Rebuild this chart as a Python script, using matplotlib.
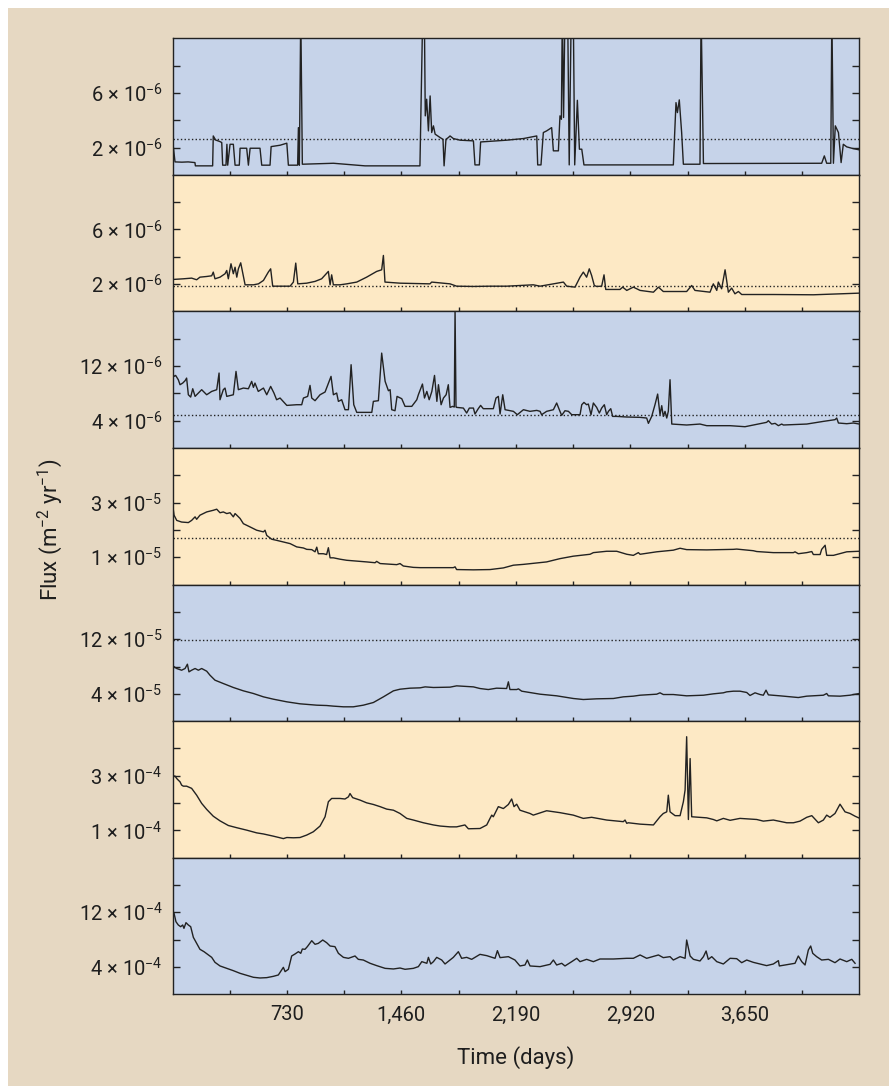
import numpy as np
import matplotlib
matplotlib.use("Agg")
import matplotlib.pyplot as plt
from matplotlib.patches import Rectangle

plt.rcParams["font.family"] = ["Roboto", "DejaVu Sans"]
plt.rcParams["font.weight"] = "normal"
plt.rcParams["mathtext.default"] = "regular"

BLUE = "#c6d3e9"
YELLOW = "#fde9c5"
BEIGE = "#e6d8c2"
INK = "#222222"
TEXT = "#1e1e1e"

X_MAX = 4380
X_TICKS = list(range(365, X_MAX, 365))
X_LABELS = {730: "730", 1460: "1,460", 2190: "2,190", 2920: "2,920", 3650: "3,650"}

# panel 1, flux in 1e-6 (values of 12 run off the top)
p1_days = [0, 16, 60, 100, 143, 146, 256, 260, 275, 300,
           314, 320, 341, 347, 352, 367, 388, 399, 426, 431,
           473, 484, 495, 558, 569, 622, 629, 686, 729, 739,
           798, 803, 809, 818, 828, 1026, 1132, 1228, 1578, 1596,
           1606, 1612, 1621, 1632, 1643, 1653, 1664, 1675, 1707, 1725,
           1732, 1744, 1759, 1770, 1791, 1834, 1919, 1929, 1957, 1965,
           2131, 2238, 2323, 2329, 2350, 2365, 2386, 2418, 2429, 2461,
           2471, 2480, 2486, 2494, 2503, 2520, 2530, 2543, 2556, 2565,
           2582, 2595, 2610, 2624, 3194, 3211, 3220, 3232, 3247, 3258,
           3364, 3371, 3386, 4140, 4157, 4172, 4198, 4205, 4215, 4227,
           4247, 4264, 4278, 4300, 4332, 4380]
p1_vals = [2.6, 0.95, 0.93, 0.95, 0.90, 0.66, 0.66, 2.85, 2.55, 2.45,
           2.37, 0.71, 0.71, 2.24, 0.71, 2.24, 2.24, 0.71, 0.71, 1.95,
           1.95, 0.71, 1.95, 1.95, 0.71, 0.71, 2.07, 2.17, 2.32, 0.71,
           0.71, 3.46, 0.71, 12, 0.78, 0.85, 0.75, 0.66, 0.66, 12,
           12, 4.32, 5.54, 3.22, 5.78, 3.10, 3.59, 2.98, 2.73, 2.6,
           0.66, 2.61, 2.73, 2.85, 2.66, 2.54, 2.49, 0.73, 0.73, 2.41,
           2.54, 2.66, 2.85, 0.73, 0.73, 3.10, 3.22, 3.46, 1.76, 1.76,
           4.32, 4.07, 12, 4.2, 12, 12, 0.73, 12, 12, 0.73,
           5.46, 1.88, 1.88, 0.73, 0.73, 5.29, 4.56, 5.49, 3.10, 0.78,
           0.78, 12, 0.83, 0.85, 1.39, 0.85, 0.85, 12, 0.85, 3.59,
           3.10, 0.90, 2.24, 2.05, 1.95, 1.83]

# panel 2, 1e-6
p2_days = [0, 69, 122, 154, 175, 218, 250, 260, 271, 303,
           335, 346, 356, 373, 388, 399, 410, 420, 435, 463,
           516, 548, 580, 611, 626, 639, 750, 771, 786, 799,
           856, 909, 951, 994, 1005, 1015, 1026, 1068, 1111, 1175,
           1238, 1302, 1334, 1345, 1355, 1451, 1642, 1653, 1770, 1812,
           1919, 2025, 2131, 2301, 2344, 2429, 2493, 2514, 2567, 2599,
           2620, 2641, 2658, 2673, 2690, 2705, 2737, 2752, 2763, 2854,
           2871, 2897, 2939, 2982, 3067, 3099, 3130, 3279, 3311, 3332,
           3428, 3449, 3471, 3481, 3502, 3524, 3545, 3566, 3587, 3609,
           3630, 3832, 4087, 4380]
p2_vals = [2.34, 2.39, 2.44, 2.32, 2.51, 2.56, 2.61, 2.88, 2.39, 2.51,
           2.76, 3.0, 2.39, 3.49, 2.76, 3.24, 2.51, 3.12, 3.56, 1.95,
           1.95, 2.02, 2.27, 2.88, 3.12, 1.85, 1.85, 2.15, 3.54, 2.02,
           2.07, 2.20, 2.39, 2.93, 1.95, 2.68, 1.95, 1.95, 2.02, 2.15,
           2.51, 2.93, 3.05, 4.1, 2.15, 2.07, 2.02, 2.15, 2.02, 1.85,
           1.83, 1.85, 1.85, 1.95, 1.85, 2.02, 2.15, 1.85, 1.78, 2.51,
           2.88, 2.51, 3.12, 2.63, 1.90, 1.83, 1.85, 2.68, 1.61, 1.61,
           1.78, 1.54, 1.78, 1.54, 1.41, 1.78, 1.46, 1.46, 1.90, 1.54,
           1.41, 2.02, 1.54, 2.15, 1.66, 3.05, 1.41, 1.71, 1.29, 1.46,
           1.24, 1.24, 1.22, 1.34]

# panel 3, 1e-6
p3_days = [0, 10, 20, 37, 48, 65, 80, 90, 101, 116,
           129, 144, 165, 186, 218, 250, 282, 297, 303, 324,
           335, 346, 388, 405, 420, 452, 484, 505, 516, 526,
           547, 580, 601, 626, 647, 664, 686, 729, 792, 824,
           835, 862, 877, 888, 909, 941, 973, 1011, 1026, 1047,
           1058, 1079, 1100, 1122, 1139, 1156, 1175, 1271, 1281, 1313,
           1334, 1356, 1377, 1388, 1398, 1419, 1432, 1462, 1483, 1526,
           1558, 1568, 1594, 1607, 1622, 1637, 1654, 1671, 1686, 1696,
           1713, 1728, 1745, 1759, 1770, 1787, 1797, 1802, 1808, 1812,
           1855, 1876, 1893, 1919, 1929, 1950, 1965, 1982, 2046, 2063,
           2078, 2089, 2106, 2121, 2174, 2199, 2238, 2280, 2323, 2344,
           2354, 2386, 2429, 2450, 2471, 2482, 2503, 2525, 2546, 2599,
           2610, 2624, 2641, 2652, 2669, 2684, 2705, 2722, 2737, 2754,
           2769, 2780, 2795, 2807, 2833, 2897, 2982, 3024, 3035, 3056,
           3077, 3094, 3109, 3120, 3130, 3141, 3152, 3162, 3173, 3184,
           3279, 3364, 3407, 3556, 3651, 3789, 3800, 3821, 3843, 3864,
           3885, 3896, 4045, 4151, 4225, 4236, 4247, 4300, 4342, 4380]
p3_vals = [11.0, 10.49, 10.63, 10.0, 9.27, 9.51, 9.85, 10.24, 7.80, 7.46,
           8.68, 7.56, 8.05, 8.54, 7.80, 8.29, 8.54, 10.98, 7.07, 8.54,
           8.78, 7.56, 7.80, 11.22, 8.54, 8.78, 8.68, 9.76, 8.88, 9.51,
           8.29, 8.78, 7.80, 9.02, 8.05, 7.07, 7.32, 6.24, 6.34, 6.34,
           7.32, 7.56, 9.17, 7.32, 6.93, 7.80, 8.20, 10.49, 7.80, 8.05,
           6.83, 7.07, 5.61, 5.61, 12.20, 6.34, 5.22, 5.22, 6.83, 6.93,
           13.90, 9.76, 8.39, 8.54, 5.61, 5.46, 7.56, 7.22, 6.10, 6.10,
           7.07, 7.80, 9.37, 7.32, 8.29, 7.07, 8.29, 10.63, 6.83, 9.27,
           6.34, 7.32, 7.80, 9.27, 5.95, 6.10, 6.0, 20.5, 6.0, 5.95,
           5.85, 5.12, 5.85, 5.85, 4.98, 5.76, 6.24, 5.76, 5.76, 7.32,
           7.56, 4.98, 7.80, 5.61, 5.37, 4.88, 5.61, 5.37, 5.51, 5.37,
           4.88, 5.37, 5.61, 6.59, 5.37, 4.78, 5.46, 5.37, 4.88, 4.88,
           6.34, 6.68, 6.34, 6.44, 4.88, 6.59, 5.95, 5.12, 5.85, 6.34,
           4.88, 5.37, 5.76, 4.63, 4.63, 4.54, 4.49, 4.39, 3.61, 4.63,
           6.34, 7.90, 4.88, 6.20, 4.63, 5.37, 4.39, 5.37, 10.0, 3.51,
           3.37, 3.51, 3.27, 3.27, 3.12, 3.76, 4.0, 3.51, 3.61, 3.27,
           3.51, 3.37, 3.51, 3.90, 4.15, 4.39, 3.66, 3.56, 3.66, 3.51]

# panel 4, 1e-5
p4_days = [0, 10, 27, 58, 101, 122, 144, 154, 175, 218,
           260, 282, 303, 324, 346, 367, 388, 399, 410, 431,
           452, 495, 537, 580, 590, 601, 633, 664, 707, 750,
           792, 835, 856, 888, 909, 920, 930, 962, 983, 994,
           1005, 1026, 1068, 1111, 1153, 1238, 1292, 1302, 1324, 1430,
           1451, 1472, 1536, 1579, 1770, 1791, 1802, 1812, 1919, 2025,
           2110, 2174, 2238, 2386, 2471, 2556, 2663, 2684, 2769, 2833,
           2897, 2939, 2971, 2982, 3088, 3194, 3237, 3279, 3407, 3577,
           3598, 3704, 3726, 3832, 3960, 3970, 3991, 4045, 4077, 4087,
           4130, 4140, 4162, 4172, 4215, 4300, 4380]
p4_vals = [2.96, 2.54, 2.35, 2.29, 2.27, 2.35, 2.48, 2.39, 2.54, 2.66,
           2.72, 2.76, 2.63, 2.66, 2.60, 2.63, 2.48, 2.60, 2.54, 2.42,
           2.23, 2.11, 1.99, 1.93, 1.99, 1.80, 1.66, 1.62, 1.56, 1.50,
           1.38, 1.34, 1.29, 1.28, 1.20, 1.37, 1.13, 1.13, 1.10, 1.35,
           0.98, 0.98, 0.93, 0.89, 0.87, 0.83, 0.80, 0.85, 0.77, 0.73,
           0.77, 0.68, 0.63, 0.62, 0.62, 0.62, 0.65, 0.55, 0.54, 0.55,
           0.61, 0.71, 0.74, 0.83, 0.95, 1.04, 1.11, 1.17, 1.22, 1.22,
           1.11, 1.07, 1.17, 1.11, 1.20, 1.26, 1.33, 1.28, 1.27, 1.29,
           1.30, 1.24, 1.21, 1.17, 1.17, 1.20, 1.13, 1.17, 1.21, 1.10,
           1.10, 1.29, 1.44, 1.07, 1.07, 1.20, 1.22]

# panel 5, 1e-5
p5_days = [0, 5, 27, 58, 80, 95, 105, 122, 144, 165,
           186, 218, 239, 271, 324, 388, 452, 516, 580, 643,
           729, 813, 920, 983, 1026, 1090, 1153, 1217, 1281, 1345,
           1409, 1451, 1515, 1579, 1611, 1664, 1770, 1812, 1919, 1961,
           2014, 2067, 2131, 2142, 2152, 2195, 2206, 2227, 2344, 2450,
           2556, 2620, 2705, 2812, 2875, 2939, 2982, 3088, 3109, 3130,
           3194, 3279, 3386, 3449, 3513, 3534, 3577, 3619, 3662, 3683,
           3715, 3747, 3768, 3785, 3800, 3874, 3991, 4045, 4151, 4172,
           4183, 4257, 4321, 4380]
p5_vals = [8.93, 8.05, 7.71, 7.46, 7.71, 8.34, 7.22, 7.46, 7.71, 7.46,
           7.71, 7.32, 6.73, 6.0, 5.51, 4.93, 4.44, 4.05, 3.56, 3.22,
           2.83, 2.54, 2.34, 2.29, 2.20, 2.10, 2.10, 2.34, 2.73, 3.56,
           4.44, 4.68, 4.83, 4.88, 5.02, 4.93, 4.98, 5.17, 5.02, 4.78,
           4.63, 4.83, 4.78, 5.76, 4.63, 4.63, 4.73, 4.39, 3.95, 3.71,
           3.32, 3.17, 3.27, 3.32, 3.56, 3.66, 3.80, 3.95, 4.15, 3.90,
           3.90, 3.71, 3.80, 4.0, 4.15, 4.29, 4.39, 4.39, 4.20, 3.76,
           4.15, 3.90, 3.80, 4.54, 3.85, 3.71, 3.46, 3.66, 3.80, 4.05,
           3.71, 3.66, 3.80, 4.05]

# panel 6, 1e-4
p6_days = [0, 16, 27, 37, 48, 58, 69, 90, 122, 154,
           186, 218, 260, 303, 356, 409, 473, 537, 580, 643,
           686, 707, 729, 771, 813, 856, 898, 941, 973, 994,
           1015, 1068, 1100, 1122, 1132, 1149, 1196, 1238, 1281, 1324,
           1366, 1409, 1451, 1494, 1536, 1600, 1664, 1707, 1770, 1812,
           1865, 1887, 1961, 2004, 2025, 2036, 2046, 2078, 2110, 2142,
           2163, 2178, 2195, 2216, 2280, 2301, 2386, 2471, 2556, 2620,
           2673, 2769, 2875, 2886, 2897, 2907, 2982, 3067, 3109, 3130,
           3152, 3162, 3173, 3205, 3237, 3258, 3269, 3279, 3290, 3301,
           3311, 3407, 3449, 3471, 3513, 3556, 3619, 3726, 3768, 3832,
           3917, 3960, 4002, 4045, 4077, 4119, 4151, 4172, 4193, 4225,
           4257, 4289, 4321, 4353, 4380]
p6_vals = [2.99, 2.99, 2.90, 2.84, 2.78, 2.66, 2.62, 2.62, 2.54, 2.29,
           1.99, 1.77, 1.52, 1.35, 1.18, 1.10, 1.01, 0.91, 0.87, 0.79,
           0.73, 0.70, 0.74, 0.73, 0.74, 0.83, 0.95, 1.16, 1.50, 2.05,
           2.17, 2.17, 2.15, 2.23, 2.35, 2.20, 2.11, 2.01, 1.95, 1.87,
           1.78, 1.74, 1.62, 1.44, 1.38, 1.28, 1.20, 1.16, 1.13, 1.13,
           1.20, 1.06, 1.07, 1.20, 1.44, 1.56, 1.50, 1.87, 1.80, 1.95,
           2.15, 1.87, 1.96, 1.74, 1.62, 1.56, 1.72, 1.65, 1.56, 1.44,
           1.48, 1.38, 1.32, 1.38, 1.26, 1.28, 1.23, 1.20, 1.50, 1.62,
           1.68, 2.29, 1.68, 1.54, 1.54, 2.05, 2.48, 4.43, 1.40, 3.63,
           1.50, 1.46, 1.40, 1.35, 1.44, 1.37, 1.44, 1.40, 1.34, 1.38,
           1.28, 1.28, 1.34, 1.48, 1.54, 1.28, 1.38, 1.56, 1.48, 1.62,
           1.96, 1.68, 1.62, 1.52, 1.45]

# panel 7, 1e-4
p7_days = [0, 10, 22, 37, 52, 65, 73, 86, 101, 116,
           133, 154, 175, 201, 229, 250, 271, 303, 346, 388,
           431, 473, 516, 558, 601, 643, 675, 707, 718, 739,
           760, 781, 803, 818, 828, 845, 860, 888, 909, 930,
           958, 983, 1005, 1036, 1058, 1090, 1122, 1164, 1185, 1217,
           1260, 1302, 1356, 1409, 1451, 1483, 1536, 1568, 1590, 1622,
           1632, 1647, 1664, 1685, 1717, 1738, 1770, 1791, 1823, 1844,
           1876, 1908, 1961, 2004, 2057, 2072, 2089, 2142, 2184, 2216,
           2248, 2263, 2280, 2344, 2408, 2429, 2450, 2482, 2503, 2546,
           2578, 2599, 2641, 2684, 2726, 2812, 2897, 2939, 2982, 3024,
           3099, 3130, 3173, 3194, 3237, 3269, 3279, 3301, 3322, 3364,
           3386, 3403, 3417, 3439, 3471, 3513, 3556, 3598, 3630, 3662,
           3704, 3747, 3789, 3832, 3864, 3870, 3917, 3970, 3991, 4013,
           4034, 4055, 4070, 4083, 4108, 4140, 4183, 4225, 4257, 4300,
           4332, 4353]
p7_vals = [12.34, 11.85, 10.63, 10.15, 9.90, 10.15, 9.66, 10.49, 10.15, 9.90,
           8.34, 7.46, 6.59, 6.24, 5.76, 5.41, 4.68, 4.15, 3.80, 3.46,
           3.07, 2.78, 2.49, 2.39, 2.44, 2.63, 2.83, 3.95, 3.32, 3.66,
           5.61, 5.90, 6.24, 6.0, 6.63, 6.59, 6.98, 7.85, 7.32, 7.46,
           7.95, 7.56, 7.07, 6.98, 6.0, 5.41, 5.27, 5.61, 5.12, 5.02,
           4.54, 4.20, 3.80, 3.71, 3.85, 3.66, 3.80, 4.05, 4.78, 4.54,
           5.41, 4.44, 4.78, 5.41, 5.02, 4.44, 5.02, 5.41, 6.24, 5.27,
           5.41, 5.12, 5.85, 5.66, 5.27, 6.39, 5.37, 5.51, 5.02, 4.15,
           4.29, 5.02, 4.15, 4.05, 4.39, 5.02, 4.29, 4.54, 4.15, 4.78,
           5.27, 4.78, 5.12, 4.78, 5.17, 5.17, 5.27, 5.27, 5.76, 5.27,
           5.76, 5.37, 5.51, 5.02, 5.51, 5.27, 7.95, 5.61, 5.12, 4.88,
           5.51, 6.34, 5.12, 5.51, 4.78, 4.44, 5.27, 5.22, 4.63, 5.02,
           4.68, 4.44, 4.20, 4.44, 4.93, 4.15, 4.34, 4.54, 5.61, 4.78,
           4.29, 6.49, 7.07, 6.0, 5.51, 5.02, 5.12, 4.63, 5.17, 4.78,
           5.12, 4.54]

# per panel: exponent, y top, minor ticks, labelled ticks, dotted reference level
exponents = [-6, -6, -6, -5, -5, -4, -4]
y_tops = [10, 10, 20, 5, 20, 5, 20]
y_ticks = [[2, 4, 6, 8], [2, 4, 6, 8], [4, 8, 12, 16], [1, 2, 3, 4],
           [4, 8, 12, 16], [1, 2, 3, 4], [4, 8, 12, 16]]
y_labelled = [[2, 6], [2, 6], [4, 12], [1, 3], [4, 12], [1, 3], [4, 12]]
ref_levels = [2.66, 1.83, 4.83, 1.70, 11.9, None, None]

series = [(p1_days, p1_vals), (p2_days, p2_vals), (p3_days, p3_vals),
          (p4_days, p4_vals), (p5_days, p5_vals), (p6_days, p6_vals),
          (p7_days, p7_vals)]

fig = plt.figure(figsize=(8.89, 10.86), dpi=100)
fig.patch.set_facecolor("white")
fig.add_artist(Rectangle((8 / 889, 0), 1, 1 - 8 / 1086, transform=fig.transFigure,
                         facecolor=BEIGE, edgecolor="none", zorder=-10))

left, width = 172.5 / 889, 686.8 / 889
top, bottom = 1 - 38.3 / 1086, 1 - 994.3 / 1086
h = (top - bottom) / 7

for i, (days, vals) in enumerate(series):
    scale = 10.0 ** exponents[i]
    ax = fig.add_axes([left, top - (i + 1) * h, width, h])
    ax.set_facecolor(BLUE if i % 2 == 0 else YELLOW)
    ax.plot(days, np.array(vals) * scale, color=INK, lw=1.0, zorder=3)
    if ref_levels[i] is not None:
        ax.axhline(ref_levels[i] * scale, color=INK, lw=1.0, ls=":", zorder=2)
    ax.set_xlim(0, X_MAX)
    ax.set_ylim(0, y_tops[i] * scale)

    ax.set_yticks([t * scale for t in y_ticks[i]])
    ax.set_yticklabels([f"{t} × 10$^{{{exponents[i]}}}$" if t in y_labelled[i] else ""
                        for t in y_ticks[i]])
    ax.set_xticks(X_TICKS)
    if i == 6:
        ax.set_xticklabels([X_LABELS.get(t, "") for t in X_TICKS])
    else:
        ax.set_xticklabels([])

    ax.tick_params(axis="y", direction="in", length=5, width=1.0, color=INK,
                   left=True, right=True, labelsize=14.5, labelcolor=TEXT, pad=7)
    ax.tick_params(axis="x", direction="in", length=3, width=1.0, color=INK,
                   top=False, labelsize=14.5, labelcolor=TEXT, pad=8)
    for sp in ax.spines.values():
        sp.set_color(INK)
        sp.set_linewidth(1.0)

fig.text(50 / 889, 1 - 530 / 1086, "Flux (m$^{-2}$ yr$^{-1}$)", rotation=90,
         ha="center", va="center", fontsize=16, color=TEXT)
fig.text(516 / 889, 1 - 1058 / 1086, "Time (days)", ha="center", va="center",
         fontsize=16, color=TEXT)

fig.savefig("out.png", dpi=100, facecolor=fig.get_facecolor())
